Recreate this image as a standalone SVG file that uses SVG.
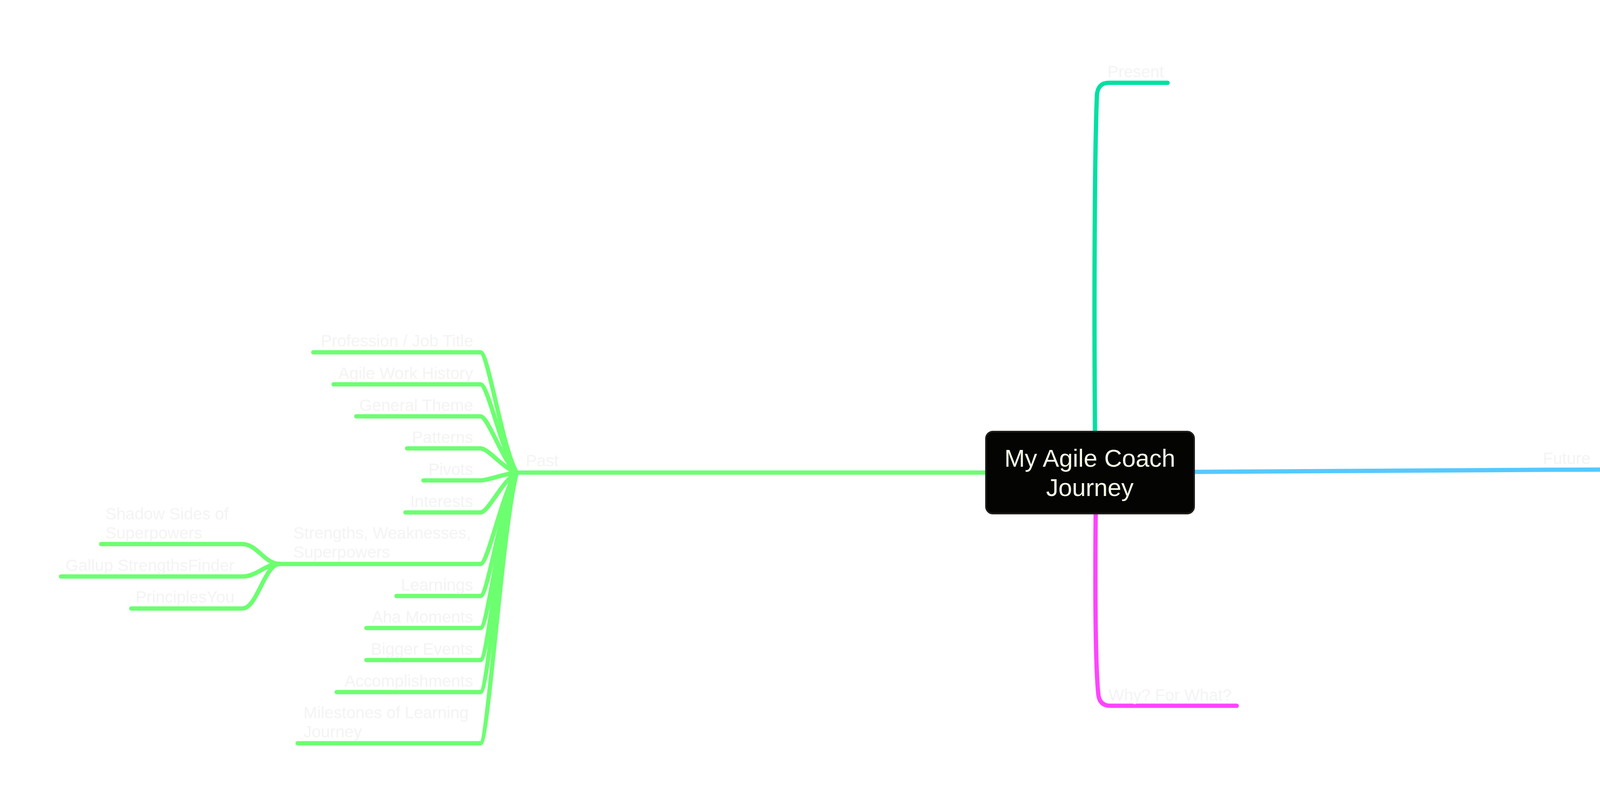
<svg xmlns="http://www.w3.org/2000/svg" width="4672" height="2056" viewBox="0 0 4672 2056">
<style>
.ln{fill:none;stroke-width:11;stroke-linecap:round;stroke-linejoin:round}
.g{stroke:#6CFF70}
.t{font-family:"Liberation Sans",Arial,Helvetica,sans-serif;font-size:42px;fill:#F4F4F4}
.e{text-anchor:end}
.c{font-family:"Liberation Sans",Arial,Helvetica,sans-serif;font-size:63px;fill:#F4FAE6;text-anchor:middle}
</style>
<rect width="4672" height="2056" fill="#FFFFFF"/>
<g id="connectors">
<path class="ln" stroke="#00E0A2" d="M2804 1200 C2800 800 2802 400 2808 245 Q2810 212 2838 212 H2989"/>
<path class="ln" stroke="#FF44FF" d="M2806 1220 C2803 1450 2803 1700 2812 1780 Q2816 1807 2842 1807 H3166"/>
<path class="ln" stroke="#55C9FF" d="M2900 1209 C3600 1209 3900 1201 4380 1201 L4519 1201"/>
<path class="ln g" d="M1323 1210 H2700"/>
<path class="ln g" d="M802 902 H1230 C1250 902 1286 1148.4 1323 1210"/>
<path class="ln g" d="M854 984 H1230 C1250 984 1286 1164.8 1323 1210"/>
<path class="ln g" d="M912 1066 H1230 C1250 1066 1286 1181.2 1323 1210"/>
<path class="ln g" d="M1042 1148 H1230 C1250 1148 1286 1197.6 1323 1210"/>
<path class="ln g" d="M1084 1230 H1230 C1250 1230 1286 1214 1323 1210"/>
<path class="ln g" d="M1038 1312 H1230 C1250 1312 1286 1230.4 1323 1210"/>
<path class="ln g" d="M716 1444 H1230 C1250 1444 1286 1256.8 1323 1210"/>
<path class="ln g" d="M1015 1526 H1230 C1250 1526 1286 1273.2 1323 1210"/>
<path class="ln g" d="M938 1608 H1230 C1250 1608 1286 1289.6 1323 1210"/>
<path class="ln g" d="M938 1690 H1230 C1250 1690 1286 1306 1323 1210"/>
<path class="ln g" d="M862 1772 H1230 C1250 1772 1286 1322.4 1323 1210"/>
<path class="ln g" d="M762 1903 H1230 C1250 1903 1286 1348.6 1323 1210"/>
<path class="ln g" d="M259 1393 H620 C659 1393 677 1444 716 1444"/>
<path class="ln g" d="M156 1476 H620 C659 1476 677 1444 716 1444"/>
<path class="ln g" d="M336 1558 H620 C659 1558 677 1444 716 1444"/>
</g>
<g id="node-root">
<rect x="2524" y="1105" width="533" height="210" rx="18" ry="18" fill="#040502" stroke="#201D1A" stroke-width="4"/>
<text class="c" x="2790" y="1195">My Agile Coach</text>
<text class="c" x="2790" y="1270">Journey</text>
</g>
<g id="node-present"><text class="t" x="2835" y="198">Present</text></g>
<g id="node-future"><text class="t" x="3950" y="1188">Future</text></g>
<g id="node-why"><text class="t" x="2838" y="1794">Why? For What?</text></g>
<g id="node-past"><text class="t" x="1346" y="1194">Past</text></g>
<g id="node-profession"><text class="t e" x="1211" y="887">Profession / Job Title</text></g>
<g id="node-agile"><text class="t e" x="1211" y="970">Agile Work History</text></g>
<g id="node-theme"><text class="t e" x="1211" y="1052">General Theme</text></g>
<g id="node-patterns"><text class="t e" x="1211" y="1134">Patterns</text></g>
<g id="node-pivots"><text class="t e" x="1211" y="1216">Pivots</text></g>
<g id="node-interests"><text class="t e" x="1211" y="1298">Interests</text></g>
<g id="node-strengths"><text class="t" x="751" y="1379">Strengths, Weaknesses,</text><text class="t" x="751" y="1428">Superpowers</text></g>
<g id="node-shadow"><text class="t" x="270" y="1330">Shadow Sides of</text><text class="t" x="270" y="1379">Superpowers</text></g>
<g id="node-gallup"><text class="t e" x="600" y="1462">Gallup StrengthsFinder</text></g>
<g id="node-principles"><text class="t e" x="600" y="1543">PrinciplesYou</text></g>
<g id="node-learnings"><text class="t e" x="1211" y="1512">Learnings</text></g>
<g id="node-aha"><text class="t e" x="1211" y="1594">Aha Moments</text></g>
<g id="node-bigger"><text class="t e" x="1211" y="1676">Bigger Events</text></g>
<g id="node-accomplishments"><text class="t e" x="1211" y="1758">Accomplishments</text></g>
<g id="node-milestones"><text class="t" x="777" y="1839">Milestones of Learning</text><text class="t" x="777" y="1888">Journey</text></g>
</svg>
